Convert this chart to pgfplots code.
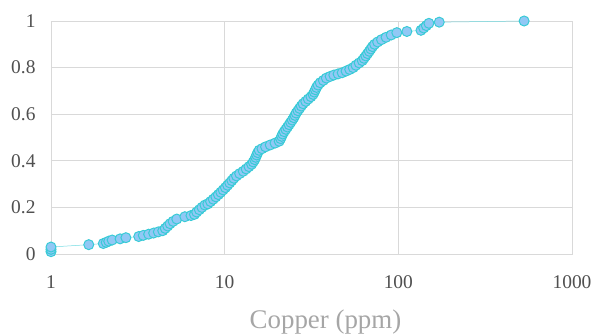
\documentclass[border=0pt]{standalone}
\usepackage{pgfplots}
\pgfplotsset{compat=1.18}
\usepackage{fontspec}
\setmainfont{Liberation Serif}
\definecolor{mfill}{RGB}{145,200,245}
\definecolor{medge}{RGB}{55,203,214}
\definecolor{gridc}{RGB}{217,217,217}
\definecolor{tickc}{RGB}{80,80,80}
\definecolor{labc}{RGB}{166,166,166}
\begin{document}
\begin{tikzpicture}
\path[use as bounding box] (-51bp,-82bp) rectangle (541bp,254bp);
\begin{axis}[
  at={(0,0)}, anchor=south west,
  scale only axis, width=521bp, height=233bp,
  xmode=log, log basis x=10,
  xmin=1, xmax=1000, ymin=0, ymax=1,
  xtick={1,10,100,1000}, xticklabels={1,10,100,1000},
  ytick={0,0.2,0.4,0.6,0.8,1},
  yticklabels={0,0.2,0.4,0.6,0.8,1},
  minor xtick={},
  major tick length=0pt, minor tick length=0pt,
  grid=major, major grid style={gridc, line width=0.8pt},
  axis line style={gridc, line width=0.8pt},
  tick label style={font=\fontsize{19.5}{19.5}\selectfont, text=tickc},
  xticklabel style={yshift=-18bp},
  yticklabel style={xshift=-12bp},
  xlabel={Copper (ppm)},
  xlabel style={font=\fontsize{27}{27}\selectfont, text=labc, yshift=-14bp, xshift=14bp},
  clip=false,
]
\addplot[color=medge!70, line width=0.5pt, mark=*, mark size=5bp,
  mark options={fill=mfill, draw=medge, line width=1pt}] table {
x y
1.0 0.01
1.0 0.02
1.0 0.03
1.65 0.04
2.0 0.045
2.08 0.05
2.15 0.055
2.25 0.06
2.5 0.065
2.7 0.07
3.2 0.075
3.4 0.08
3.65 0.085
3.9 0.09
4.15 0.095
4.4 0.10
4.55 0.11
4.7 0.12
4.85 0.13
5.05 0.14
5.3 0.15
5.9 0.16
6.4 0.165
6.7 0.17
6.9 0.18
7.15 0.19
7.4 0.20
7.7 0.21
8.0 0.215
8.3 0.225
8.6 0.235
8.9 0.245
9.2 0.255
9.5 0.265
9.8 0.275
10.1 0.285
10.4 0.295
10.7 0.305
11.0 0.315
11.3 0.325
11.7 0.335
12.2 0.345
12.8 0.355
13.3 0.365
13.8 0.375
14.3 0.385
14.6 0.395
14.9 0.405
15.1 0.415
15.3 0.425
15.5 0.435
15.8 0.445
16.4 0.452
17.2 0.46
18.3 0.468
19.5 0.476
20.6 0.484
21.0 0.495
21.3 0.505
21.6 0.515
22.0 0.525
22.5 0.535
23.0 0.545
23.5 0.555
24.0 0.565
24.5 0.575
25.0 0.585
25.4 0.595
25.8 0.605
26.4 0.615
27.0 0.625
27.6 0.635
28.3 0.645
29.3 0.655
30.3 0.665
31.4 0.675
32.3 0.685
32.8 0.695
33.3 0.705
33.8 0.715
34.5 0.725
35.5 0.735
37.0 0.745
38.5 0.755
40.5 0.762
42.5 0.768
45.0 0.773
47.5 0.778
50.0 0.785
52.5 0.792
55.0 0.80
57.0 0.81
59.5 0.82
62.0 0.83
63.5 0.84
65.0 0.85
66.5 0.86
68.0 0.87
69.5 0.88
71.0 0.89
73.0 0.90
76.0 0.91
80.0 0.92
85.0 0.93
91.0 0.94
98.0 0.95
112 0.955
135 0.96
140 0.97
145 0.98
150 0.99
172 0.995
530 1.0
};
\end{axis}
\end{tikzpicture}
\end{document}
